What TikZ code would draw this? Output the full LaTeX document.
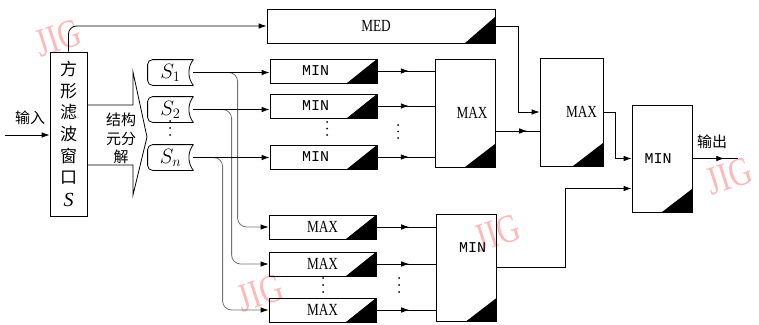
\documentclass[tikz,border=0pt]{standalone}
\usepackage{fontspec}
\setmainfont{Liberation Serif}
\newfontfamily\cjk{Noto Sans CJK SC}
\newfontfamily\cond[FakeStretch=0.78]{Liberation Serif}
\newfontfamily\mono{Liberation Mono}
\usetikzlibrary{arrows.meta,calc,decorations.markings}
\tikzset{
  tri/.style={path picture={\fill (path picture bounding box.south east) -- ([xshift=-30pt]path picture bounding box.south east) -- ([yshift=#1]path picture bounding box.south east) -- cycle;}},
  smallbox/.style={draw, inner sep=0pt, minimum width=107pt, minimum height=24pt, tri=24pt},
  bigbox/.style={draw, inner sep=0pt, minimum width=60pt, minimum height=108pt, tri=23pt},
  mintxt/.style={font=\mono\fontsize{15}{15}\selectfont},
  maxtxt/.style={font=\cond\fontsize{17}{17}\selectfont},
  scrollbox/.style={inner sep=0pt, minimum width=45pt, minimum height=25pt, font=\fontsize{20}{20}\selectfont},
  cjktxt/.style={font=\cjk\fontsize{15}{18.5}\selectfont, align=center},
  wm/.style={text=red!28, font=\cond\fontsize{40}{40}\selectfont, rotate=18},
  midarrow/.style={decoration={markings, mark=at position #1 with {\arrow{Latex[length=8pt,width=5.5pt]}}}, postaction={decorate}},
  branch/.style={draw=black!55, rounded corners=9pt},
  dotc/.style={fill, circle, inner sep=0pt, minimum size=2pt}
}
\begin{document}
\begin{tikzpicture}[x=1pt,y=-1pt,line width=0.8pt,>={Latex[length=8pt,width=5.5pt]}]
\useasboundingbox (0,0) rectangle (759,324);
% watermarks
\node[wm] (wm1) at (58,38) {JIG};
\node[wm] (wm2) at (260,293) {JIG};
\node[wm] (wm3) at (497,233) {JIG};
\node[wm] (wm4) at (729,176) {JIG};

% main window box
\node[draw, inner sep=0pt, minimum width=37pt, minimum height=164pt, align=center,
      font=\cjk\fontsize{17}{21.6}\selectfont] (sbox) at (68.5,134)
      {方\\形\\滤\\波\\窗\\口\\[1pt]{\rmfamily\itshape\fontsize{20}{20}\selectfont S}};

% decomposition block arrow
\draw (87,105) -- (133,105) -- (133,72) -- (147,137) -- (133,195) -- (133,165) -- (87,165);
\node[cjktxt] (decomp) at (121,138.5) {结构\\元分\\解};

% input
\coordinate (in) at (5,135);
\draw[->] (in) -- (in -| sbox.west);
\node[font=\cjk\fontsize{15}{15}\selectfont] (inlbl) at (30,118) {输入};

% scrolls
\node[scrollbox] (s1) at (170.5,72.5) {$S_1$};
\node[scrollbox] (s2) at (170.5,109.5) {$S_2$};
\node[scrollbox] (sn) at (170.5,157.5) {$S_n$};
\foreach \n in {s1,s2,sn}{
  \draw[rounded corners=5pt] (\n.north east) -- (\n.north west) -- (\n.south west) -- (\n.south east);
  \draw (\n.north east) .. controls ($(\n.north east)+(-6,7)$) and ($(\n.south east)+(-6,-7)$) .. (\n.south east);
}
\foreach \yy in {121,128,135} \node[dotc] at (170,\yy) {};

% MED box
\node[draw, inner sep=0pt, minimum width=228pt, minimum height=34pt, tri=26pt,
      label={[maxtxt,xshift=-5pt]center:MED}] (med) at (381,26) {};

% MIN small boxes
\node[smallbox, label={[mintxt,xshift=-8pt]center:MIN}] (min1) at (323.5,71) {};
\node[smallbox, label={[mintxt,xshift=-8pt]center:MIN}] (min2) at (323.5,106) {};
\node[smallbox, label={[mintxt,xshift=-8pt]center:MIN}] (minn) at (323.5,157) {};
\foreach \yy in {122,128.5,135} \node[dotc] at (327,\yy) {};
\foreach \yy in {125,131.5,138} \node[dotc] at (398,\yy) {};

% MAX small boxes
\node[smallbox, label={[maxtxt]center:MAX}] (max1) at (322.5,227) {};
\node[smallbox, label={[maxtxt]center:MAX}] (max2) at (322.5,264) {};
\node[smallbox, label={[maxtxt]center:MAX}] (maxn) at (322.5,310) {};
\foreach \yy in {278,285,292} {\node[dotc] at (323,\yy) {}; \node[dotc] at (399,\yy) {};}

% big boxes
\node[bigbox, label={[maxtxt,xshift=7pt]center:MAX}] (maxA) at (465,113) {};
\node[bigbox, minimum width=63pt, label={[maxtxt,xshift=10pt]center:MAX}] (maxB) at (571.5,112) {};
\node[bigbox, minimum height=107pt, label={[mintxt,xshift=6pt,yshift=19.5pt]center:MIN}] (minB) at (466.5,267.5) {};
\node[bigbox, minimum height=107pt, label={[mintxt,xshift=-4pt]center:MIN}] (minF) at (662,158.5) {};

% window -> MED
\draw[->, rounded corners=8pt] (sbox.north) |- (med.west);

% branches to MAX boxes (drawn first, grey line, black tip)
\draw[branch] (s1.east) -| ($(max1.west)+(-31,0)$) -- ($(max1.west)+(-6,0)$);
\draw[branch] (s2.east) -| ($(max2.west)+(-37,0)$) -- ($(max2.west)+(-6,0)$);
\draw[branch] (sn.east) -| ($(maxn.west)+(-46,0)$) -- ($(maxn.west)+(-6,0)$);
\draw[->] ($(max1.west)+(-8,0)$) -- (max1.west);
\draw[->] ($(max2.west)+(-8,0)$) -- (max2.west);
\draw[->] ($(maxn.west)+(-8,0)$) -- (maxn.west);

% scrolls -> MIN
\draw[->] (s1.east) -- (s1.east -| min1.west);
\draw[->] (s2.east) -- (s2.east -| min2.west);
\draw[->] (sn.east) -- (sn.east -| minn.west);

% MIN -> MAX A
\draw[midarrow=0.55] (min1.east) -- (min1.east -| maxA.west);
\draw[midarrow=0.55] (min2.east) -- (min2.east -| maxA.west);
\draw[midarrow=0.55] (minn.east) -- (minn.east -| maxA.west);

% MAX -> MIN B
\draw[midarrow=0.55] (max1.east) -- (max1.east -| minB.west);
\draw[midarrow=0.55] (max2.east) -- (max2.east -| minB.west);
\draw[midarrow=0.55] (maxn.east) -- (maxn.east -| minB.west);

% MAX A -> MAX B
\draw[midarrow=0.72] ([yshift=-18pt]maxA.east) -- ([yshift=-18pt]maxA.east -| maxB.west);
% MED -> MAX B
\draw[->] (med.east) -- ++(23,0) |- (maxB.west);
% MAX B -> MIN F
\draw[->] (maxB.east) -- ++(12,0) |- (minF.west);
% MIN B -> MIN F
\draw[->] (minB.east) -- ++(68.5,0) |- ([yshift=-30pt]minF.west);
% output
\coordinate (out) at (738,158.5);
\draw[midarrow=0.7] (minF.east) -- (out);
\node[font=\cjk\fontsize{15}{15}\selectfont] (outlbl) at (712,142) {输出};
\end{tikzpicture}
\end{document}
